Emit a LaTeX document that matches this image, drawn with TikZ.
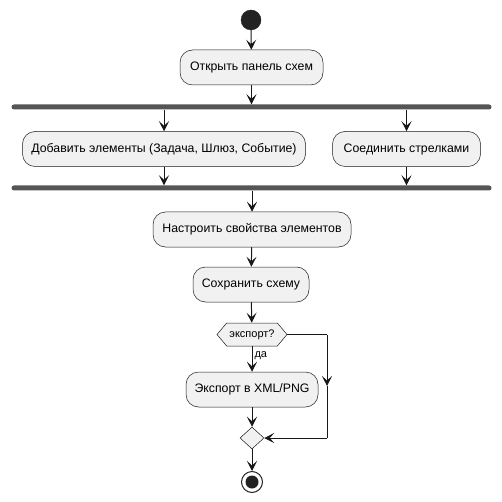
\documentclass[tikz,border=0pt]{standalone}
\usepackage{fontspec}
\setmainfont{Liberation Sans}
\usetikzlibrary{arrows.meta,shapes.geometric,shapes.symbols}
\definecolor{ink}{HTML}{181818}
\definecolor{boxfill}{HTML}{F1F1F1}
\definecolor{barfill}{HTML}{555555}
\definecolor{dot}{HTML}{222222}
\tikzset{
  act/.style={draw=ink, line width=0.5pt, fill=boxfill, rounded corners=12.5pt,
    minimum height=35pt, inner xsep=0pt, inner ysep=0pt, font=\fontsize{12.3pt}{14pt}\selectfont},
  forkbar/.style={fill=barfill, draw=none, rounded corners=2.5pt,
    minimum width=480pt, minimum height=5pt, inner sep=0pt},
  startdot/.style={circle, fill=dot, draw=dot, minimum size=20pt, inner sep=0pt},
  enddot/.style={circle, draw=dot, line width=1pt, fill=white, minimum size=21pt, inner sep=0pt,
    path picture={\fill[dot] (path picture bounding box.center) circle (6.5pt);}},
  decision/.style={signal, signal to=west and east, signal pointer angle=100,
    draw=ink, line width=0.5pt, fill=boxfill, minimum width=70pt, minimum height=23pt,
    inner xsep=0pt, inner ysep=0pt, font=\fontsize{11pt}{13pt}\selectfont},
  merge/.style={diamond, draw=ink, line width=0.5pt, fill=boxfill,
    minimum width=24pt, minimum height=22pt, inner sep=0pt},
  link/.style={draw=ink, line width=1pt},
  flow/.style={link, -{Stealth[length=10pt, width=10pt, inset=4.5pt]}},
  guard/.style={font=\fontsize{11pt}{13pt}\selectfont, inner sep=2pt}
}
\begin{document}
\begin{tikzpicture}[x=1pt, y=-1pt]
\useasboundingbox (0,0) rectangle (502,502);

% nodes
\node[startdot] (start) at (251,20) {};
\node[act, minimum width=143pt] (open) at (251.5,67.5) {Открыть панель схем};
\node[forkbar] (fork) at (251.5,107) {};
\node[act, minimum width=283pt] (add) at (164,149) {Добавить элементы (Задача, Шлюз, Событие)};
\node[act, minimum width=148pt] (connect) at (406.5,149) {Соединить стрелками};
\node[forkbar] (join) at (251.5,188) {};
\node[act, minimum width=198pt] (config) at (252,229.5) {Настроить свойства элементов};
\node[act, minimum width=116pt] (save) at (251,284.5) {Сохранить схему};
\node[decision] (dec) at (252,334.5) {экспорт?};
\node[act, minimum width=132pt] (export) at (252,389.5) {Экспорт в XML/PNG};
\node[merge] (mrg) at (252,438) {};
\node[enddot] (stop) at (252,482) {};

\coordinate (rt) at (327,334.5);
\coordinate (rmid) at (327,386);
\coordinate (rb) at (327,438);

% connectors
\draw[flow] (start) -- (open);
\draw[flow] (open) -- (fork.north);
\draw[flow] (fork.south -| add) -- (add);
\draw[flow] (fork.south -| connect) -- (connect);
\draw[flow] (add) -- (add |- join.north);
\draw[flow] (connect) -- (connect |- join.north);
\draw[flow] (join.south -| config) -- (config);
\draw[flow] (config) -- (save);
\draw[flow] (save) -- (dec);
\draw[flow] (dec.south) -- node[guard, pos=0.35, anchor=west] {да} (export.north);
\draw[flow] (export) -- (mrg);
\draw[link] (dec.east) -- (rt);
\draw[flow] (rt) -- (rmid);
\draw[link] (rmid) -- (rb);
\draw[flow] (rb) -- (mrg.east);
\draw[flow] (mrg) -- (stop);
\end{tikzpicture}
\end{document}
